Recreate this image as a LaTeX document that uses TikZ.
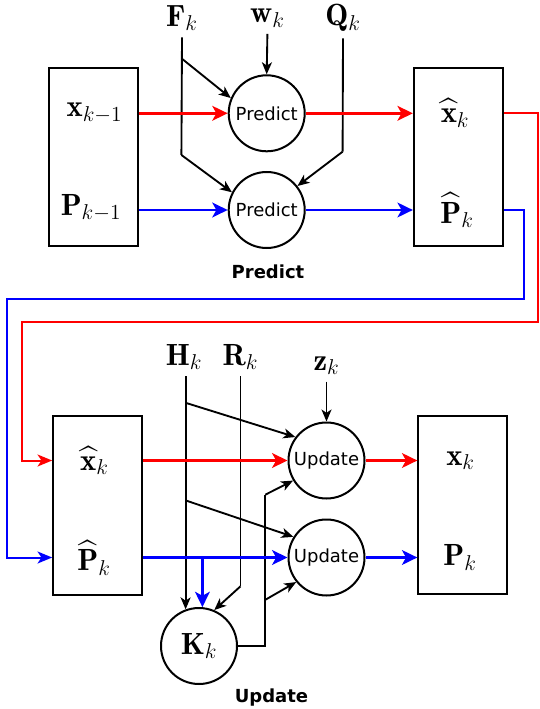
\RequirePackage{fix-cm}
\documentclass[tikz,border=0pt]{standalone}
\usepackage{amsmath}
\usepackage{fontspec}
\newfontfamily\dejavu{DejaVu Sans}
\usetikzlibrary{arrows.meta}

\begin{document}
\begin{tikzpicture}[
  x=0.75pt,y=-0.75pt,
  bloc/.style={rectangle,draw,line width=1.5pt,minimum width=66.5pt,
               minimum height=134pt,inner sep=0pt},
  etape/.style={circle,draw,line width=1.5pt,minimum size=57pt,inner sep=0pt,
                font=\dejavu\fontsize{13.5}{16}\selectfont},
  sym/.style={inner sep=0pt,font=\fontsize{23}{27}\selectfont},
  entree/.style={sym,outer sep=5pt},
  titre/.style={font=\dejavu\bfseries\fontsize{13.5}{16}\selectfont},
  trait/.style={line width=1.4pt},
  fleche/.style={trait,-{Stealth[length=9pt,width=7.5pt,inset=2.5pt]}},
  rouge/.style={red,line width=2.2pt,-{Stealth[length=11.5pt,width=11pt,inset=3pt]}},
  bleu/.style={blue,line width=2.2pt,-{Stealth[length=11.5pt,width=11pt,inset=3pt]}},
  retour/.style={line width=1.5pt,-{Stealth[length=11pt,width=9pt,inset=3pt]}}
]
\useasboundingbox (0,0) rectangle (539,709);
%% Prediction
\node[bloc]  (boxA)  at (93.3,157)   {};
\node[bloc]  (boxB)  at (458.2,157)  {};
\node[sym]   (xprev) at (94.5,113)   {$\mathbf{x}_{k-1}$};
\node[sym]   (Pprev) at (91,208)     {$\mathbf{P}_{k-1}$};
\node[sym]   (xhat)  at (455,113)    {$\widehat{\mathbf{x}}_k$};
\node[sym]   (Phat)  at (457,210)    {$\widehat{\mathbf{P}}_k$};
\node[etape] (pred1) at (266.7,113.3) {Predict};
\node[etape] (pred2) at (266.7,210)   {Predict};
\node[entree] (F) at (182,18)  {$\mathbf{F}_k$};
\node[entree] (w) at (267.4,18) {$\mathbf{w}_k$};
\node[entree] (Q) at (343,18)  {$\mathbf{Q}_k$};
\node[titre] (tpred) at (268,271.7) {Predict};
\coordinate (Fa) at (181.4,58.3);
\coordinate (Fb) at (181.4,155);
\coordinate (Qb) at (342.6,151.7);
\draw[trait]  (F.south) -- (Fb);
\draw[fleche] (Fa) -- (pred1.157.8);
\draw[fleche] (Fb) -- (pred2.153.5);
\draw[fleche] (w.south) -- (pred1.north);
\draw[trait]  (Q.south) -- (Qb);
\draw[fleche] (Qb) -- (pred2.38.5);
\draw[rouge] (boxA.east |- pred1) -- (pred1);
\draw[rouge] (pred1) -- (boxB.west |- pred1);
\draw[bleu]  (boxA.east |- pred2) -- (pred2);
\draw[bleu]  (pred2) -- (boxB.west |- pred2);
%% Mise a jour
\node[bloc]  (boxC)  at (97.5,505.5) {};
\node[bloc]  (boxD)  at (462.7,505)  {};
\node[sym]   (xhatB) at (94.5,460.7) {$\widehat{\mathbf{x}}_k$};
\node[sym]   (PhatB) at (94,557.7)   {$\widehat{\mathbf{P}}_k$};
\node[sym]   (xnew)  at (460.5,460.7) {$\mathbf{x}_k$};
\node[sym]   (Pnew)  at (460,557.7)  {$\mathbf{P}_k$};
\node[etape] (upd1)  at (326.5,460.5) {Update};
\node[etape] (upd2)  at (326.5,557.5) {Update};
\node[etape,font=\fontsize{23}{27}\selectfont] (K) at (199,646) {$\mathbf{K}_k$};
\node[entree] (H) at (184,357)   {$\mathbf{H}_k$};
\node[entree] (R) at (240.5,357) {$\mathbf{R}_k$};
\node[entree] (z) at (326.5,365.8) {$\mathbf{z}_k$};
\node[titre] (tupd) at (271.5,697.4) {Update};
\coordinate (Ha) at (185.6,402.8);
\coordinate (Hb) at (185.6,500.4);
\coordinate (Rb) at (240.5,586.3);
\coordinate (kc) at (265.3,646);
\coordinate (ku) at (265.3,494.7);
\coordinate (km) at (265.3,599.8);
\draw[fleche] (H.south -| Ha) -- (Ha |- K.110);
\draw[fleche] (Ha) -- (upd1.143.7);
\draw[fleche] (Hb) -- (upd2.148.5);
\draw[trait]  (R.south) -- (Rb);
\draw[fleche] (Rb) -- (K.67);
\draw[fleche] (z.south) -- (upd1.north);
\draw[trait]  (K.east) -- (kc) -- (ku);
\draw[fleche] (ku) -- (upd1.211);
\draw[fleche] (km) -- (upd2.219.6);
\draw[rouge] (boxC.east |- upd1) -- (upd1);
\draw[rouge] (upd1) -- (boxD.west |- upd1);
\draw[bleu]  (boxC.east |- upd2) -- (upd2);
\draw[bleu]  (upd2) -- (boxD.west |- upd2);
\draw[bleu]  (K.85 |- upd2) -- (K.85);
%% Retours
\coordinate (rc1) at (537.8,322);
\coordinate (rc2) at (21.6,322);
\coordinate (bc1) at (524,299);
\coordinate (bc2) at (7,299);
\draw[retour,red]  (boxB.east |- pred1) -| (rc1) -- (rc2) |- (boxC.west |- upd1);
\draw[retour,blue] (boxB.east |- pred2) -| (bc1) -- (bc2) |- (boxC.west |- upd2);
\end{tikzpicture}
\end{document}
